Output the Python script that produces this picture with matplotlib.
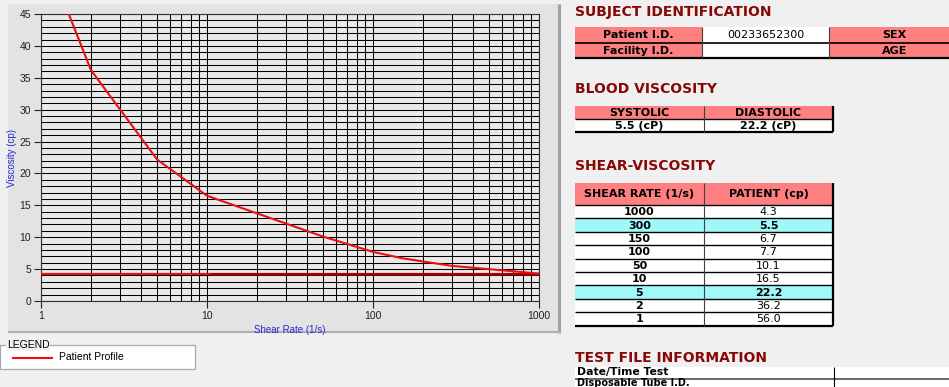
import matplotlib
matplotlib.use('Agg')
import matplotlib.pyplot as plt
from matplotlib.patches import Rectangle
from matplotlib.ticker import LogLocator, MultipleLocator, NullFormatter, FixedLocator

# ---- data ----
shear_rate = [1000, 300, 150, 100, 50, 10, 5, 2, 1]
patient_cp = [4.3, 5.5, 6.7, 7.7, 10.1, 16.5, 22.2, 36.2, 56.0]
highlight_rates = [300, 5]
systolic_cp = 5.5
diastolic_cp = 22.2
baseline_cp = 4.2
baseline_split = 10.5
patient_id = '00233652300'
x_ticks = [1, 10, 100, 1000]
y_ticks = [0, 5, 10, 15, 20, 25, 30, 35, 40, 45]

W, H = 949, 387
PAGE = '#f0f0f0'
PANEL = '#e3e3e3'
PLOTBG = '#e9e9e9'
SALMON = '#ff8080'
CYAN = '#a0f8f8'
TITLE = '#880808'
BLUE = '#2828d0'

fig = plt.figure(figsize=(W / 100, H / 100), dpi=100, facecolor=PAGE)

# overlay in pixel coords (y down) for panel, legend and tables
ov = fig.add_axes([0, 0, 1, 1], zorder=0)
ov.set_xlim(0, W)
ov.set_ylim(H, 0)
ov.axis('off')


def box(x0, y0, x1, y1, fc, ec='none', lw=0.0, z=1):
    ov.add_patch(Rectangle((x0, y0), x1 - x0, y1 - y0, fc=fc, ec=ec, lw=lw, zorder=z))


def hline(x0, x1, y, c='black', lw=0.8, z=3):
    ov.plot([x0, x1], [y, y], color=c, lw=lw, zorder=z, solid_capstyle='butt')


def vline(x, y0, y1, c='black', lw=0.8, z=3):
    ov.plot([x, x], [y0, y1], color=c, lw=lw, zorder=z, solid_capstyle='butt')


# chart panel
box(8, 4, 561, 332, PANEL)
vline(559, 4, 333, c='#a0a0a0', lw=2.2)
hline(8, 561, 331.5, c='#b0b0b0', lw=1.6)

# ---- main plot ----
ax = fig.add_axes([41 / W, 86 / H, 498 / W, 287 / H], zorder=1)
ax.set_facecolor(PLOTBG)
ax.set_xscale('log')
ax.set_xlim(1, 1000)
ax.set_ylim(0, 45)

ax.xaxis.set_major_locator(FixedLocator(x_ticks))
ax.xaxis.set_minor_locator(LogLocator(base=10, subs=range(2, 10)))
ax.xaxis.set_minor_formatter(NullFormatter())
ax.set_xticklabels([str(v) for v in x_ticks])
ax.set_yticks(y_ticks)
ax.yaxis.set_minor_locator(MultipleLocator(1))
ax.tick_params(which='minor', length=0)
ax.tick_params(which='major', length=5, width=0.8, labelsize=7.5, pad=2, colors='#202020')
ax.grid(which='both', color='black', lw=0.75)
ax.set_axisbelow(True)
for s in ax.spines.values():
    s.set_color('#303030')
    s.set_linewidth(0.8)

ax.plot([1, 1000], [baseline_cp, baseline_cp], color='#e81010', lw=1.6, zorder=3)
ax.plot([baseline_split, 1000], [baseline_cp, baseline_cp], color='#9a0000', lw=1.8, zorder=3)
ax.plot(shear_rate, patient_cp, color='#e81010', lw=1.5, zorder=4)

ax.set_xlabel('Shear Rate (1/s)', color=BLUE, fontsize=7, fontfamily='Liberation Sans')
ax.xaxis.set_label_coords((290 - 41) / 498, -(325 - 301) / 287)
ax.set_ylabel('Viscosity (cp)', color=BLUE, fontsize=7, fontfamily='Liberation Sans')
ax.yaxis.set_label_coords(-(41 - 17) / 498, (301 - 158) / 287)
for lab in ax.get_xticklabels() + ax.get_yticklabels():
    lab.set_fontfamily('Liberation Sans')

# ---- legend box ----
box(0, 345, 195, 369, 'white', ec='#a8a8a8', lw=0.9)
ov.text(7, 345, 'LEGEND', fontsize=7.5, fontfamily='Liberation Sans', va='center', ha='left',
        zorder=5, bbox=dict(fc=PAGE, ec='none', pad=0.5))
hline(12, 53, 358, c='#e81010', lw=1.5)
ov.text(59, 357, 'Patient Profile', fontsize=7.5, fontfamily='Liberation Sans', va='center', ha='left')

# ---- right side tables ----
tfont = dict(fontsize=10, fontweight='bold', color=TITLE, va='center', ha='left', fontfamily='DejaVu Sans')
cell = dict(fontsize=8, va='center', ha='center', color='black', fontfamily='DejaVu Sans')

# subject identification
ov.text(575, 12, 'SUBJECT IDENTIFICATION', **tfont)
cols = [575, 702, 829, 960]
rows = [27, 43, 58]
labels = [['Patient I.D.', patient_id, 'SEX'], ['Facility I.D.', '', 'AGE']]
for r in range(2):
    for c in range(3):
        fc = 'white' if c == 1 else SALMON
        box(cols[c], rows[r], cols[c + 1], rows[r + 1], fc)
        ov.text((cols[c] + cols[c + 1]) / 2, (rows[r] + rows[r + 1]) / 2, labels[r][c],
                fontweight='normal' if c == 1 else 'bold', **cell)
hline(575, 960, 43, lw=1.2)
hline(575, 960, 58, lw=1.6)
for x in cols[1:3]:
    vline(x, 27, 58, c='#404040', lw=0.8)

# blood viscosity
ov.text(575, 89, 'BLOOD VISCOSITY', **tfont)
box(575, 106, 833, 119, SALMON)
box(575, 119, 833, 132, 'white')
ov.text(639.5, 113, 'SYSTOLIC', fontweight='bold', **cell)
ov.text(768.5, 113, 'DIASTOLIC', fontweight='bold', **cell)
ov.text(639.5, 126, '%.1f (cP)' % systolic_cp, fontweight='bold', **cell)
ov.text(768.5, 126, '%.1f (cP)' % diastolic_cp, fontweight='bold', **cell)
hline(575, 833, 119, lw=1.0)
hline(575, 833, 132, lw=1.6)
vline(704, 106, 132, c='#404040')
vline(833, 106, 132, lw=1.6)

# shear-viscosity table
ov.text(575, 166, 'SHEAR-VISCOSITY', **tfont)
top, hbot, rh = 183, 205, 13.4
box(575, top, 833, hbot, SALMON)
ov.text(639.5, (top + hbot) / 2, 'SHEAR RATE (1/s)', fontweight='bold', **cell)
ov.text(768.5, (top + hbot) / 2, 'PATIENT (cp)', fontweight='bold', **cell)
for i, (sr, cp) in enumerate(zip(shear_rate, patient_cp)):
    y0 = hbot + i * rh
    hl = sr in highlight_rates
    box(575, y0, 833, y0 + rh, CYAN if hl else 'white')
    ov.text(639.5, y0 + rh / 2 + 0.5, str(sr), fontweight='bold', **cell)
    ov.text(768.5, y0 + rh / 2 + 0.5, '%.1f' % cp, fontweight='bold' if hl else 'normal',
            **cell)
    hline(575, 833, y0, lw=1.0)
bot = hbot + len(shear_rate) * rh
hline(575, 833, bot, lw=1.6)
vline(704, top, bot, c='#404040')
vline(833, top, bot, lw=1.6)

# test file information
ov.text(575, 358, 'TEST FILE INFORMATION', **tfont)
box(575, 367, 960, 378, 'white')
box(575, 379, 960, 390, 'white')
hline(575, 960, 378.5, c='#505050', lw=1.2)
vline(834, 367, 390)
ov.text(577, 372.5, 'Date/Time Test', fontsize=7.8, fontweight='bold', va='center', ha='left',
        fontfamily='DejaVu Sans')
ov.text(577, 382.5, 'Disposable Tube I.D.', fontsize=7, fontweight='bold', va='center', ha='left',
        fontfamily='DejaVu Sans')

fig.savefig('out.png', dpi=100, facecolor=PAGE)
